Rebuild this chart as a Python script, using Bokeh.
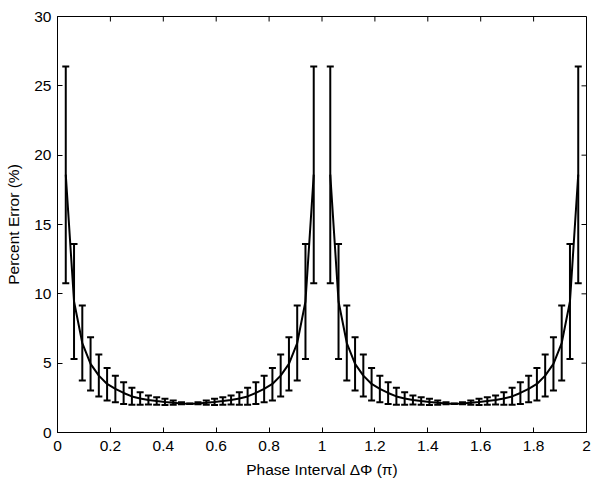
from bokeh.plotting import figure
from bokeh.models import ColumnDataSource, Whisker, TeeHead, FixedTicker, Range1d
from bokeh.embed import file_html
from bokeh.resources import INLINE
import math

# Phase interval (units of pi)
phase = [0.03125, 0.0625, 0.09375, 0.125, 0.15625, 0.1875, 0.21875, 0.25,
         0.28125, 0.3125, 0.34375, 0.375, 0.40625, 0.4375, 0.46875, 0.5,
         0.53125, 0.5625, 0.59375, 0.625, 0.65625, 0.6875, 0.71875, 0.75,
         0.78125, 0.8125, 0.84375, 0.875, 0.90625, 0.9375, 0.96875,
         1.03125, 1.0625, 1.09375, 1.125, 1.15625, 1.1875, 1.21875, 1.25,
         1.28125, 1.3125, 1.34375, 1.375, 1.40625, 1.4375, 1.46875, 1.5,
         1.53125, 1.5625, 1.59375, 1.625, 1.65625, 1.6875, 1.71875, 1.75,
         1.78125, 1.8125, 1.84375, 1.875, 1.90625, 1.9375, 1.96875]

mean_err = [18.6, 9.45, 6.45, 4.95, 4.1, 3.5, 3.15, 2.85, 2.6, 2.45, 2.35, 2.27, 2.2, 2.14, 2.1, 2.08,
            2.1, 2.14, 2.2, 2.27, 2.35, 2.45, 2.6, 2.85, 3.15, 3.5, 4.1, 4.95, 6.45, 9.45, 18.6,
            18.6, 9.45, 6.45, 4.95, 4.1, 3.5, 3.15, 2.85, 2.6, 2.45, 2.35, 2.27, 2.2, 2.14, 2.1, 2.08,
            2.1, 2.14, 2.2, 2.27, 2.35, 2.45, 2.6, 2.85, 3.15, 3.5, 4.1, 4.95, 6.45, 9.45, 18.6]

lower_err = [10.76, 5.3, 3.75, 3.03, 2.59, 2.31, 2.18, 2.06, 2.0, 2.0, 2.02, 2.0, 1.98, 2.0, 2.03, 2.05,
             2.03, 2.0, 1.98, 2.0, 2.02, 2.0, 2.0, 2.06, 2.18, 2.31, 2.59, 3.03, 3.75, 5.3, 10.76,
             10.76, 5.3, 3.75, 3.03, 2.59, 2.31, 2.18, 2.06, 2.0, 2.0, 2.02, 2.0, 1.98, 2.0, 2.03, 2.05,
             2.03, 2.0, 1.98, 2.0, 2.02, 2.0, 2.0, 2.06, 2.18, 2.31, 2.59, 3.03, 3.75, 5.3, 10.76]

upper_err = [26.4, 13.6, 9.15, 6.87, 5.62, 4.66, 4.1, 3.63, 3.22, 2.9, 2.67, 2.54, 2.43, 2.3, 2.18, 2.1,
             2.18, 2.3, 2.43, 2.54, 2.67, 2.9, 3.22, 3.63, 4.1, 4.66, 5.62, 6.87, 9.15, 13.6, 26.4,
             26.4, 13.6, 9.15, 6.87, 5.62, 4.66, 4.1, 3.63, 3.22, 2.9, 2.67, 2.54, 2.43, 2.3, 2.18, 2.1,
             2.18, 2.3, 2.43, 2.54, 2.67, 2.9, 3.22, 3.63, 4.1, 4.66, 5.62, 6.87, 9.15, 13.6, 26.4]

x_ticks = [0, 0.2, 0.4, 0.6, 0.8, 1, 1.2, 1.4, 1.6, 1.8, 2]
x_tick_labels = ["0", "0.2", "0.4", "0.6", "0.8", "1", "1.2", "1.4", "1.6", "1.8", "2"]
y_ticks = [0, 5, 10, 15, 20, 25, 30]

X_MIN, X_MAX = 0, 2
Y_MIN, Y_MAX = 0, 30

FONT = "Liberation Sans"

p = figure(width=600, height=483, output_backend="svg", toolbar_location=None,
           x_range=Range1d(X_MIN, X_MAX), y_range=Range1d(Y_MIN, Y_MAX),
           min_border_left=57, min_border_right=14, min_border_top=16, min_border_bottom=51)
p.grid.visible = False
p.outline_line_color = "black"
p.outline_line_width = 1
p.background_fill_color = "white"
p.border_fill_color = "white"

# split line into two segments at x = 1
half = len(phase) // 2
p.line(phase[:half], mean_err[:half], line_color="black", line_width=2)
p.line(phase[half:], mean_err[half:], line_color="black", line_width=2)

src = ColumnDataSource(dict(x=phase, lower=lower_err, upper=upper_err))
w = Whisker(source=src, base="x", lower="lower", upper="upper", dimension="height",
            line_color="black", line_width=2,
            upper_head=TeeHead(size=7, line_color="black", line_width=2),
            lower_head=TeeHead(size=7, line_color="black", line_width=2))
p.add_layout(w)

# inward tick marks on top and right edges (MATLAB-style box)
p.ray(x=x_ticks, y=[Y_MAX] * len(x_ticks), length=5, length_units="screen",
      angle=-math.pi / 2, line_color="black", line_width=1)
p.ray(x=[X_MAX] * len(y_ticks), y=y_ticks, length=5, length_units="screen",
      angle=math.pi, line_color="black", line_width=1)

for ax in (p.xaxis[0], p.yaxis[0]):
    ax.axis_line_color = "black"
    ax.major_tick_in = 5
    ax.major_tick_out = 0
    ax.minor_tick_line_color = None
    ax.major_tick_line_color = "black"
    ax.major_label_text_font = FONT
    ax.major_label_text_font_size = "15.5px"
    ax.major_label_text_color = "black"
    ax.axis_label_text_font = FONT
    ax.axis_label_text_font_size = "15.5px"
    ax.axis_label_text_font_style = "normal"
    ax.axis_label_text_color = "black"

p.xaxis.ticker = FixedTicker(ticks=x_ticks)
p.xaxis.major_label_overrides = {t: l for t, l in zip(x_ticks, x_tick_labels)}
p.xaxis.axis_label = "Phase Interval \u0394\u03a6 (\u03c0)"
p.xaxis.major_label_standoff = 8
p.xaxis.axis_label_standoff = 7
p.yaxis.ticker = FixedTicker(ticks=y_ticks)
p.yaxis.axis_label = "Percent Error (%)"
p.yaxis.major_label_standoff = 6
p.yaxis.axis_label_standoff = 9

open("out.html", "w").write(file_html(p, INLINE))
